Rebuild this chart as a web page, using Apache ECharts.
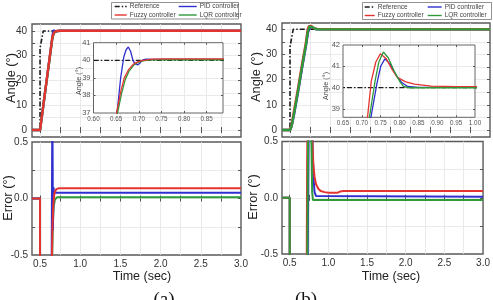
<!DOCTYPE html>
<html><head><meta charset="utf-8">
<script src="https://cdn.jsdelivr.net/npm/echarts@6/dist/echarts.min.js"></script>
<style>html,body{margin:0;padding:0;background:#fff}#c{width:493px;height:300px}</style>
</head><body><div id="c"></div>
<script>
// ---------------- DATA (time in s, angle / error in degrees) ----------------
// Panel (a)
const refA   = [[0.4,0],[0.5,0],[0.5,33],[0.54,40],[3.0,40]];
const pidA   = [[0.4,0],[0.5,0],[0.652,37],[0.66,39],[0.667,40.2],[0.672,40.6],[0.677,40.76],[0.682,40.5],[0.687,40.0],[0.692,39.8],[0.698,39.74],[0.703,39.85],[0.707,40.0],[0.713,40.05],[0.718,40.06],[0.73,40.05],[3.0,40.05]];
const fuzzyA = [[0.4,0],[0.5,0],[0.651,37],[0.66,38.2],[0.668,39.0],[0.677,39.45],[0.688,39.78],[0.699,39.92],[0.71,40.0],[0.73,40.06],[0.76,40.08],[3.0,40.08]];
const lqrA   = [[0.4,0],[0.5,0],[0.653,37],[0.662,38.1],[0.67,38.9],[0.679,39.4],[0.69,39.75],[0.7,39.9],[0.712,39.98],[0.73,40.02],[0.76,40.03],[3.0,40.03]];
const errFuzzyA = [[0.4,0],[0.5,0],[0.5,-33],[0.64,-2],[0.648,-0.5],[0.655,-0.25],[0.665,-0.05],[0.68,0.05],[0.70,0.08],[0.73,0.09],[3.0,0.09]];
const errPidA   = [[0.4,0],[0.5,0],[0.5,-33],[0.64,-3],[0.645,-0.5],[0.65,0.3],[0.653,0.76],[0.657,0.3],[0.66,-0.28],[0.664,-0.1],[0.668,0.1],[0.672,0.05],[3.0,0.05]];
const errLqrA   = [[0.4,0],[0.5,0],[0.5,-33],[0.645,-2],[0.652,-0.5],[0.66,-0.2],[0.67,-0.07],[0.685,-0.01],[0.71,0.01],[3.0,0.01]];
// Panel (b)
const refB   = [[0.4,0],[0.5,0],[0.5,33],[0.54,40],[3.0,40]];
const pidB   = [[0.4,0],[0.5,0],[0.52,1.5],[0.55,6],[0.6,15],[0.65,24.5],[0.7,33.5],[0.724,38.6],[0.74,40.2],[0.75,41.0],[0.761,41.35],[0.775,41.1],[0.79,40.6],[0.805,40.25],[0.821,40.05],[0.85,40.01],[3.0,40.0]];
const fuzzyB = [[0.4,0],[0.5,0],[0.52,2],[0.55,7.5],[0.6,16.5],[0.65,26],[0.7,35],[0.715,38.6],[0.725,40.3],[0.737,41.2],[0.749,41.59],[0.765,41.35],[0.78,40.85],[0.794,40.48],[0.815,40.28],[0.839,40.16],[0.884,40.07],[0.95,40.04],[3.0,40.03]];
const lqrB   = [[0.4,0],[0.5,0],[0.52,1.5],[0.55,6.5],[0.6,15.5],[0.65,25],[0.7,34],[0.72,38.6],[0.735,40.3],[0.745,41.2],[0.757,41.67],[0.77,41.4],[0.785,40.8],[0.8,40.3],[0.81,40.05],[0.825,39.99],[3.0,39.98]];
const errFuzzyB = [[0.4,0],[0.5,0],[0.5,-33],[0.7,-5],[0.715,-1.4],[0.725,0.3],[0.737,1.2],[0.749,1.59],[0.765,1.35],[0.78,0.85],[0.794,0.48],[0.805,0.3],[0.82,0.19],[0.84,0.12],[0.87,0.08],[0.9,0.06],[0.95,0.05],[1.0,0.045],[1.12,0.045],[1.15,0.055],[1.2,0.06],[3.0,0.06]];
const errPidB   = [[0.4,0],[0.5,0],[0.5,-33],[0.7,-6.5],[0.724,-1.4],[0.74,0.2],[0.75,1.0],[0.761,1.35],[0.775,1.1],[0.79,0.6],[0.8,0.35],[0.81,0.15],[0.821,0.05],[0.84,0.015],[3.0,0.01]];
const errLqrB   = [[0.4,0],[0.5,0],[0.5,-33],[0.7,-6],[0.72,-1.4],[0.735,0.3],[0.745,1.2],[0.757,1.67],[0.77,1.2],[0.78,0.5],[0.79,0.05],[0.8,-0.02],[3.0,-0.02]];

// Ticks / labels
const timeLabels   = [0.5,1.0,1.5,2.0,2.5,3.0];
const timeTicks    = [0.5,0.75,1.0,1.25,1.5,1.75,2.0,2.25,2.5,2.75];
const angleLabels  = [0,10,20,30,40];
const angleTicks   = [0,5,10,15,20,25,30,35,40];
const errorLabels  = [-0.5,0.0,0.5];
const errorTicks   = [-0.25,0,0.25];
const insetAXLabels = [0.60,0.65,0.70,0.75,0.80,0.85];
const insetAXTicks  = [0.65,0.70,0.75,0.80,0.85];
const insetAYLabels = [37,38,39,40,41];
const insetAYTicks  = [38,39,40];
const insetBXLabels = [0.65,0.70,0.75,0.80,0.85,0.90,0.95,1.00];
const insetBXTicks  = [0.70,0.75,0.80,0.85,0.90,0.95];
const insetBYLabels = [39,40,41,42];
const insetBYTicks  = [39,40,41];
const legendLeft  = ['Reference','Fuzzy controller'];
const legendRight = ['PID controller','LQR controller'];

// ---------------- STYLE ----------------
const FONT = 'Liberation Sans, Arial, Helvetica, sans-serif';
const RED = '#e3342f', BLUE = '#2f2fd0', GREEN = '#2f9a3a', BLACK = '#1a1a1a';
const DASHDOT = [5,2,1.5,2];

const option = {animation:false, backgroundColor:'#fff', grid:[], xAxis:[], yAxis:[], series:[], legend:[], graphic:[]};

function addCell(g, xc, yc, z) {
  const gi = option.grid.length;
  option.grid.push(Object.assign({show:true, z:z, borderColor:'#5a5a5a', borderWidth:1.4,
    backgroundColor: z > 0 ? '#fff' : 'transparent', containLabel:false}, g));
  const xi = option.xAxis.length, yi = option.yAxis.length;
  const tick = (vals, len) => ({show:true, inside:true, length:len, customValues:vals,
    lineStyle:{color:'#555', width:1}});
  const split = {show:true, lineStyle:{color:'#e4e4e4', width:0.8}};
  option.xAxis.push({type:'value', gridIndex:gi, min:xc.min, max:xc.max, position:'bottom', z:z+1,
    axisLine:{show:false}, axisTick:tick(xc.ticks, xc.len),
    axisLabel:{show: !!xc.labels, customValues: xc.labels || [], formatter: v => v.toFixed(xc.dec),
      fontSize:xc.fs, color:xc.color, margin:xc.margin, fontFamily:FONT},
    splitLine:split});
  option.xAxis.push({type:'value', gridIndex:gi, min:xc.min, max:xc.max, position:'top', z:z+1,
    axisLine:{show:false}, axisTick:tick(xc.ticks, xc.len), axisLabel:{show:false}, splitLine:{show:false}});
  option.yAxis.push({type:'value', gridIndex:gi, min:yc.min, max:yc.max, position:'left', z:z+1,
    axisLine:{show:false}, axisTick:tick(yc.ticks, yc.len),
    axisLabel:{show:true, customValues: yc.labels, formatter: v => v.toFixed(yc.dec),
      fontSize:yc.fs, color:yc.color, margin:yc.margin, fontFamily:FONT},
    splitLine:split});
  option.yAxis.push({type:'value', gridIndex:gi, min:yc.min, max:yc.max, position:'right', z:z+1,
    axisLine:{show:false}, axisTick:tick(yc.ticks, yc.len), axisLabel:{show:false}, splitLine:{show:false}});
  return {xi, yi, z};
}
function line(cell, name, data, color, width, dash) {
  option.series.push({type:'line', name, data, xAxisIndex:cell.xi, yAxisIndex:cell.yi,
    showSymbol:false, symbol:'none', z:cell.z + 2, clip:true, silent:true,
    lineStyle:{color, width, type: dash || 'solid'}, itemStyle:{color}});
}

const mainX = (labels) => ({min:0.4, max:3.0, ticks:timeTicks, labels, dec:1, fs:10, color:'#333', margin:4, len:3});

// Panel (a)
const aAng = addCell({left:32, right:252, top:24, bottom:163}, mainX(null),
  {min:-2.8, max:42.8, ticks:angleTicks, labels:angleLabels, dec:0, fs:10, color:'#333', margin:5, len:3}, 0);
line(aAng, 'Reference', refA, BLACK, 1.6, DASHDOT);
line(aAng, 'PID controller', pidA, BLUE, 2.4);
line(aAng, 'LQR controller', lqrA, GREEN, 2.4);
line(aAng, 'Fuzzy controller', fuzzyA, RED, 2.4);

const aErr = addCell({left:32, right:252, top:142, bottom:45}, mainX(timeLabels),
  {min:-0.5, max:0.5, ticks:errorTicks, labels:errorLabels, dec:1, fs:10, color:'#333', margin:4, len:3}, 0);
line(aErr, 'LQR controller', errLqrA, GREEN, 2.0);
line(aErr, 'PID controller', errPidA, BLUE, 2.0);
line(aErr, 'Fuzzy controller', errFuzzyA, RED, 2.0);

const aIn = addCell({left:93.5, right:270, top:42.7, bottom:187, borderWidth:1, borderColor:'#666'},
  {min:0.6, max:0.886, ticks:insetAXTicks, labels:insetAXLabels, dec:2, fs:6.3, color:'#555', margin:3, len:2},
  {min:37, max:41, ticks:insetAYTicks, labels:insetAYLabels, dec:0, fs:7.5, color:'#555', margin:3, len:2}, 3);
line(aIn, 'Reference', refA, BLACK, 1.2, DASHDOT);
line(aIn, 'PID controller', pidA, BLUE, 1.3);
line(aIn, 'LQR controller', lqrA, GREEN, 1.3);
line(aIn, 'Fuzzy controller', fuzzyA, RED, 1.3);

// Panel (b)
const bAng = addCell({left:282, right:3, top:23, bottom:163}, mainX(null),
  {min:-2.8, max:42.5, ticks:angleTicks, labels:angleLabels, dec:0, fs:10, color:'#333', margin:5, len:3}, 0);
line(bAng, 'Reference', refB, BLACK, 1.6, DASHDOT);
line(bAng, 'PID controller', pidB, BLUE, 2.4);
line(bAng, 'Fuzzy controller', fuzzyB, RED, 2.4);
line(bAng, 'LQR controller', lqrB, GREEN, 2.4);

const bErr = addCell({left:282, right:3, top:141.5, bottom:46}, mainX(timeLabels),
  {min:-0.5, max:0.5, ticks:errorTicks, labels:errorLabels, dec:1, fs:10, color:'#333', margin:4, len:3}, 0);
line(bErr, 'PID controller', errPidB, BLUE, 2.0);
line(bErr, 'Fuzzy controller', errFuzzyB, RED, 2.0);
line(bErr, 'LQR controller', errLqrB, GREEN, 2.0);

const bIn = addCell({left:343, right:18, top:45, bottom:182.7, borderWidth:1, borderColor:'#666'},
  {min:0.65, max:1.0, ticks:insetBXTicks, labels:insetBXLabels, dec:2, fs:6.3, color:'#555', margin:3, len:2},
  {min:38.6, max:42, ticks:insetBYTicks, labels:insetBYLabels, dec:0, fs:7.5, color:'#555', margin:3, len:2}, 3);
line(bIn, 'Reference', refB, BLACK, 1.2, DASHDOT);
line(bIn, 'PID controller', pidB, BLUE, 1.3);
line(bIn, 'Fuzzy controller', fuzzyB, RED, 1.3);
line(bIn, 'LQR controller', lqrB, GREEN, 1.3);

// Legends
function legend(names, left, top, w) {
  option.legend.push({data:names, orient:'vertical', left, top, padding:0, itemGap:1.5,
    itemWidth:w, itemHeight:7, selectedMode:false, z:11,
    itemStyle:{opacity:0}, lineStyle:{width:1.4},
    textStyle:{fontSize:6.5, color:'#444', fontFamily:FONT, padding:[0,0,0,-2]}});
}
legend(legendLeft, 114, 3, 12);
legend(legendRight, 178, 3, 18);
legend(legendLeft, 364, 3.5, 10);
legend(legendRight, 427, 3.5, 14);

// Frames, titles
const txt = (text, x, y, fs, rot, family, color) => ({type:'text', x, y, rotation: rot || 0, z:12, silent:true,
  style:{text, fontSize:fs, fontFamily: family || FONT, fill: color || '#222', align:'center', verticalAlign:'middle'}});
option.graphic = [
  {type:'rect', z:10, silent:true, shape:{x:111.5, y:2.5, width:127, height:16.5}, style:{fill:'#fff', stroke:'#777', lineWidth:0.8}},
  {type:'rect', z:10, silent:true, shape:{x:362.5, y:2.5, width:129, height:17}, style:{fill:'#fff', stroke:'#777', lineWidth:0.8}},
  txt('Angle (°)', 11, 78, 12.8, Math.PI/2),
  txt('Error (°)', 8, 198, 12.8, Math.PI/2),
  txt('Time (sec)', 142, 277, 12.5),
  txt('Angle (°)', 256, 77, 12.8, Math.PI/2),
  txt('Error (°)', 253, 197, 12.8, Math.PI/2),
  txt('Time (sec)', 391, 277, 12.5),
  txt('Angle (°)', 79, 81, 7.2, Math.PI/2, null, '#444'),
  txt('Angle (°)', 326, 86, 7.2, Math.PI/2, null, '#444'),
  txt('(a)', 164, 300, 19, 0, 'Liberation Serif, Times New Roman, serif', '#111'),
  txt('(b)', 306, 300, 19, 0, 'Liberation Serif, Times New Roman, serif', '#111')
];

const chart = echarts.init(document.getElementById('c'), null, {renderer:'canvas'});
chart.setOption(option);
</script></body></html>
